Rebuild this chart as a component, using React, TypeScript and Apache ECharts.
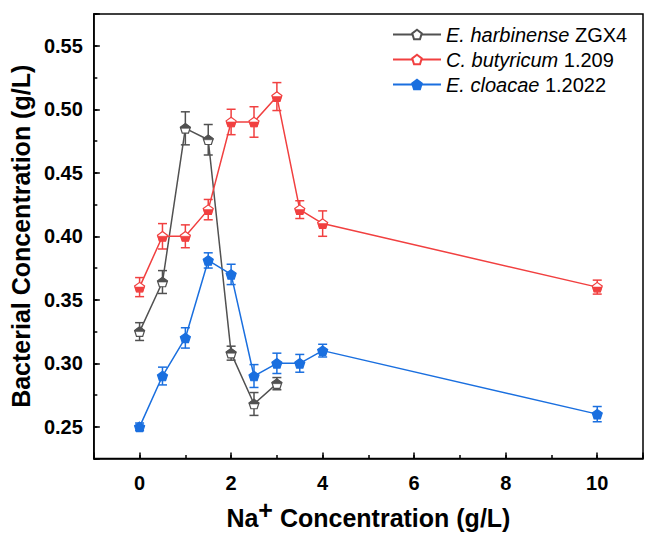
import React, { useEffect, useRef } from 'react';
import * as echarts from 'echarts';

// ---- data ----
const xValues = [0, 0.5, 1, 1.5, 2, 2.5, 3, 3.5, 4, 10];
const harbinenseY = [0.325, 0.364, 0.485, 0.476, 0.308, 0.268, 0.284];
const harbinenseErr = [0.007, 0.009, 0.013, 0.012, 0.0055, 0.009, 0.0048];
const butyricumY = [0.36, 0.4, 0.4, 0.421, 0.49, 0.49, 0.51, 0.421, 0.41, 0.36];
const butyricumErr = [0.0075, 0.01, 0.009, 0.008, 0.01, 0.012, 0.011, 0.007, 0.01, 0.0055];
const cloacaeY = [0.25, 0.29, 0.32, 0.381, 0.37, 0.29, 0.3, 0.3, 0.31, 0.26];
const cloacaeErr = [0.003, 0.007, 0.008, 0.006, 0.008, 0.009, 0.008, 0.007, 0.005, 0.006];

const speciesNames = ['E. harbinense', 'C. butyricum', 'E. cloacae'];
const strainNames = ['ZGX4', '1.209', '1.2022'];
const seriesNames = speciesNames.map((s, i) => `${s} ${strainNames[i]}`);

const xTickLabels = [0, 2, 4, 6, 8, 10];
const yTickLabels = [0.25, 0.3, 0.35, 0.4, 0.45, 0.5, 0.55];

const COLORS = ['#515151', '#F14040', '#1A6FDF'];
const FONT = '"Liberation Sans", Arial, Helvetica, sans-serif';

// pentagon marker (apex up), in a 0..100 design box
const PENT = 'path://M50 0L97.55 34.55L79.39 90.45L20.61 90.45L2.45 34.55Z';
const TOP_HALF_PTS = [[50, 0], [97.55, 34.55], [94.09, 45.2], [5.91, 45.2], [2.45, 34.55]];
const BOTTOM_HALF_PTS = [[5.91, 45.2], [94.09, 45.2], [79.39, 90.45], [20.61, 90.45]];
const SYM_W = 10;
const SYM_H = 9.5;

export default function App() {
  const ref = useRef<HTMLDivElement>(null);

  useEffect(() => {
    if (!ref.current) return;
    const chart = echarts.init(ref.current, undefined, { renderer: 'svg' });

    const groups = [
      { y: harbinenseY, err: harbinenseErr, half: TOP_HALF_PTS, filled: false },
      { y: butyricumY, err: butyricumErr, half: BOTTOM_HALF_PTS, filled: false },
      { y: cloacaeY, err: cloacaeErr, half: null as number[][] | null, filled: true },
    ];

    const sx = SYM_W / 95.1;
    const sy = SYM_H / 90.45;

    const series: any[] = [];
    groups.forEach((g, gi) => {
      const color = COLORS[gi];
      const pts = g.y.map((v, i) => [xValues[i], v]);
      const errData = g.y.map((v, i) => [xValues[i], v - g.err[i], v + g.err[i]]);
      series.push({
        type: 'custom',
        name: seriesNames[gi] + ' error',
        xAxisIndex: 0,
        yAxisIndex: 0,
        z: 2,
        data: errData,
        encode: { x: 0, y: [1, 2] },
        renderItem: (params: any, api: any) => {
          const x = api.value(0);
          const lo = api.value(1);
          const hi = api.value(2);
          const pHi = api.coord([x, hi]);
          const pLo = api.coord([x, lo]);
          const w = 4.5;
          const st = { stroke: color, lineWidth: 1.5 };
          return {
            type: 'group',
            children: [
              { type: 'line', shape: { x1: pHi[0], y1: pHi[1], x2: pLo[0], y2: pLo[1] }, style: st },
              { type: 'line', shape: { x1: pHi[0] - w, y1: pHi[1], x2: pHi[0] + w, y2: pHi[1] }, style: st },
              { type: 'line', shape: { x1: pLo[0] - w, y1: pLo[1], x2: pLo[0] + w, y2: pLo[1] }, style: st },
            ],
          };
        },
      });
      series.push({
        type: 'line',
        name: seriesNames[gi],
        xAxisIndex: 0,
        yAxisIndex: 0,
        z: 3,
        data: pts,
        symbol: PENT,
        symbolSize: [SYM_W, SYM_H],
        showSymbol: true,
        lineStyle: { color, width: 1.5 },
        itemStyle: { color: g.filled ? color : '#ffffff', borderColor: color, borderWidth: 1.2 },
      });
      if (g.half) {
        const half = g.half;
        series.push({
          type: 'custom',
          name: seriesNames[gi] + ' fill',
          xAxisIndex: 0,
          yAxisIndex: 0,
          z: 4,
          data: pts,
          encode: { x: 0, y: 1 },
          renderItem: (params: any, api: any) => {
            const c = api.coord([api.value(0), api.value(1)]);
            const points = half.map((p) => [c[0] + (p[0] - 50) * sx, c[1] + (p[1] - 45.225) * sy]);
            return {
              type: 'polygon',
              shape: { points },
              style: { fill: color, stroke: color, lineWidth: 0.6 },
            };
          },
        });
      }
    });

    const tickStyle = { color: '#000', width: 1.5 };
    const labelBase = { fontSize: 20, fontWeight: 'bold', color: '#000', fontFamily: FONT };

    chart.setOption({
      animation: false,
      grid: {
        left: 93,
        right: -9,
        top: 14,
        bottom: 68,
        show: true,
        borderColor: '#000',
        borderWidth: 1.5,
        backgroundColor: 'transparent',
      },
      legend: {
        orient: 'vertical',
        left: 392,
        top: 22,
        padding: 0,
        itemWidth: 48,
        itemHeight: 12,
        itemGap: 0,
        data: seriesNames,
        formatter: (name: string) => {
          const i = seriesNames.indexOf(name);
          return `{i|${speciesNames[i]}}{n| ${strainNames[i]}}`;
        },
        textStyle: {
          fontSize: 20,
          fontFamily: FONT,
          color: '#000',
          lineHeight: 25,
          rich: {
            i: { fontSize: 20, fontStyle: 'italic', fontFamily: FONT, color: '#000', lineHeight: 25 },
            n: { fontSize: 20, fontFamily: FONT, color: '#000', lineHeight: 25 },
          },
        },
      },
      xAxis: [
        {
          type: 'value',
          min: -1,
          max: 11,
          splitNumber: 6,
          position: 'bottom',
          axisLine: { show: true, onZero: false, lineStyle: tickStyle },
          axisTick: { show: true, inside: true, length: 6, lineStyle: tickStyle },
          axisLabel: {
            ...labelBase,
            margin: 14,
            formatter: (v: number) => (xTickLabels.indexOf(v) >= 0 ? String(v) : ''),
          },
          splitLine: { show: false },
          name: '{a|Na}{s|+}{a| Concentration (g/L)}',
          nameLocation: 'middle',
          nameGap: 37,
          nameTextStyle: {
            rich: {
              a: { fontSize: 25, fontWeight: 'bold', fontFamily: FONT, color: '#000', lineHeight: 40 },
              s: { fontSize: 25, fontWeight: 'bold', fontFamily: FONT, color: '#000', lineHeight: 16, verticalAlign: 'top' },
            },
          },
        },
        {
          type: 'value',
          min: -1,
          max: 11,
          interval: 1,
          position: 'bottom',
          axisLine: { show: false, onZero: false },
          axisTick: { show: true, inside: true, length: 3.5, lineStyle: tickStyle },
          axisLabel: { show: false },
          splitLine: { show: false },
        },
      ],
      yAxis: [
        {
          type: 'value',
          min: 0.225,
          max: 0.575,
          splitNumber: 7,
          position: 'left',
          axisLine: { show: true, onZero: false, lineStyle: tickStyle },
          axisTick: { show: true, inside: true, length: 6, lineStyle: tickStyle },
          axisLabel: {
            ...labelBase,
            margin: 11,
            formatter: (v: number) =>
              yTickLabels.some((t) => Math.abs(t - v) < 1e-6) ? v.toFixed(2) : '',
          },
          splitLine: { show: false },
          name: 'Bacterial Concentration (g/L)',
          nameLocation: 'middle',
          nameGap: 59,
          nameTextStyle: { fontSize: 25, fontWeight: 'bold', fontFamily: FONT, color: '#000' },
        },
        {
          type: 'value',
          min: 0.225,
          max: 0.575,
          interval: 0.025,
          position: 'left',
          axisLine: { show: false, onZero: false },
          axisTick: { show: true, inside: true, length: 3.5, lineStyle: tickStyle },
          axisLabel: { show: false },
          splitLine: { show: false },
        },
      ],
      series,
    });

    return () => chart.dispose();
  }, []);

  return (
    <div
      ref={ref}
      style={{ position: 'fixed', left: 0, top: 0, width: 646, height: 535, background: '#fff' }}
    />
  );
}
